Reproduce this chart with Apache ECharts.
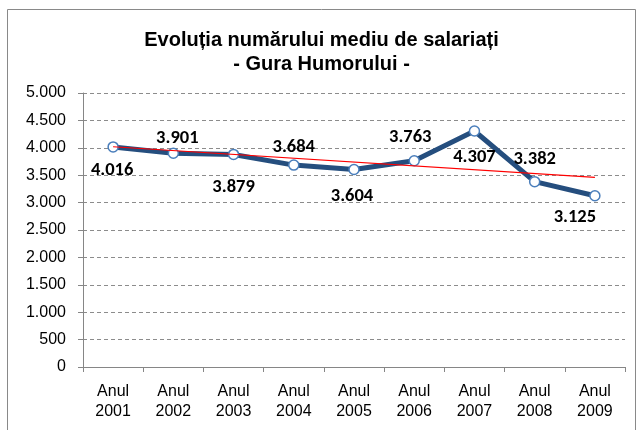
<!DOCTYPE html>
<html><head><meta charset="utf-8">
<script src="https://cdn.jsdelivr.net/npm/echarts@6/dist/echarts.min.js"></script>
<style>html,body{margin:0;padding:0;background:#fff}#c{width:643px;height:430px}</style>
</head><body><div id="c"></div>
<script>
const categories = ['Anul\n2001','Anul\n2002','Anul\n2003','Anul\n2004','Anul\n2005','Anul\n2006','Anul\n2007','Anul\n2008','Anul\n2009'];
const values = [4016, 3901, 3879, 3684, 3604, 3763, 4307, 3382, 3125];
const labelOffsets = [[-1, 23], [4, -15], [0, 33], [0, -18], [-2, 27], [-4, -23], [0, 26], [0, -22], [-20, 22]];
const trendValues = [4019, null, null, null, null, null, null, null, 3461];
const yTicks = [0, 500, 1000, 1500, 2000, 2500, 3000, 3500, 4000, 4500, 5000];

function fmt(v){ return String(v).replace(/\B(?=(\d{3})+(?!\d))/g, '.'); }

const chart = echarts.init(document.getElementById('c'));
chart.setOption({
  animation: false,
  title: {
    text: 'Evoluția numărului mediu de salariați\n- Gura Humorului -',
    left: 'center', top: 23,
    textStyle: {fontFamily: 'Liberation Sans, Arial', fontSize: 20, fontWeight: 'bold', color: '#000', lineHeight: 24}
  },
  graphic: [{type: 'rect', shape: {x: 7.5, y: 9.5, width: 628, height: 430}, style: {fill: 'none', stroke: '#898989', lineWidth: 1}, z: -1}],
  grid: {left: 83, right: 18, top: 93, bottom: 63},
  xAxis: {
    type: 'category', data: categories, boundaryGap: true,
    axisLine: {lineStyle: {color: '#868686'}},
    axisTick: {show: true, alignWithLabel: false, length: 5, lineStyle: {color: '#868686'}},
    axisLabel: {fontFamily: 'Liberation Sans, Arial', fontSize: 16, color: '#000', lineHeight: 20, margin: 15}
  },
  yAxis: {
    type: 'value', min: yTicks[0], max: yTicks[yTicks.length-1], interval: 500,
    axisLine: {show: true, lineStyle: {color: '#868686'}},
    axisTick: {show: true, length: 5, lineStyle: {color: '#868686'}},
    axisLabel: {fontFamily: 'Liberation Sans, Arial', fontSize: 16, color: '#000', margin: 17, formatter: v => fmt(v)},
    splitLine: {lineStyle: {color: '#8c8c8c', type: [4, 3], width: 1}}
  },
  series: [
    {
      type: 'line', data: values.map((v, i) => ({value: v, label: {offset: labelOffsets[i]}})),
      lineStyle: {color: '#254e7e', width: 5},
      symbol: 'circle', symbolSize: 10,
      itemStyle: {color: '#fff', borderColor: '#4a7ebb', borderWidth: 1.5},
      label: {show: true, position: 'inside', fontFamily: 'Carlito, Calibri, DejaVu Sans', fontSize: 18.5, fontWeight: 'bold', color: '#000', formatter: p => fmt(p.value)},
      z: 3
    },
    {
      type: 'line', data: trendValues, connectNulls: true,
      lineStyle: {color: '#ff0000', width: 1.2}, symbol: 'none', z: 4, silent: true
    }
  ]
});
</script></body></html>
